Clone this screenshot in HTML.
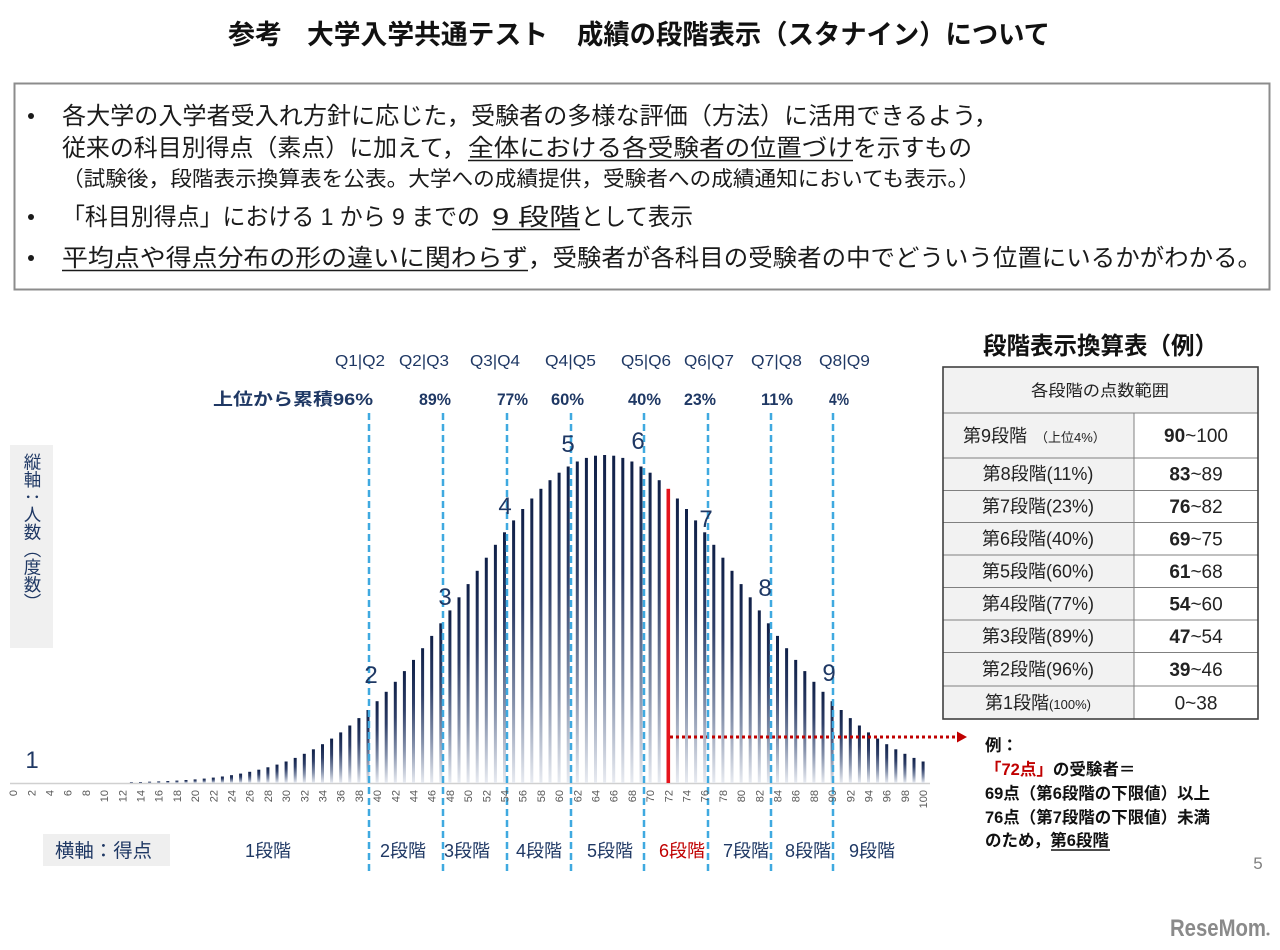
<!DOCTYPE html>
<html><head><meta charset="utf-8">
<style>
html,body{margin:0;padding:0;background:#fff;}
#p{position:relative;width:1280px;height:950px;overflow:hidden;background:#fff;font-family:"Liberation Sans","Noto Sans CJK JP",sans-serif;}
svg{position:absolute;left:0;top:0;}
svg text{font-family:"Liberation Sans","Noto Sans CJK JP",sans-serif;}
#vlab{position:absolute;left:10px;top:445px;width:43px;height:203px;background:#f0f0f0;}
#vlab div{position:absolute;left:12px;top:8px;writing-mode:vertical-rl;font-size:17.5px;line-height:20px;color:#1f3864;white-space:nowrap;}
</style></head><body><div id="p">
<div id="vlab"><div>縦軸：人数（度数）</div></div>
<svg width="1280" height="950" viewBox="0 0 1280 950">
<defs>
<linearGradient id="g" x1="0" y1="0" x2="0" y2="1">
<stop offset="0" stop-color="#0f1f47"/>
<stop offset="0.35" stop-color="#2f3f68"/>
<stop offset="0.7" stop-color="#8591ab"/>
<stop offset="1" stop-color="#e8ebf1"/>
</linearGradient>
</defs>

<!-- Title -->
<g font-weight="bold" font-size="27" fill="#111">
<text x="228" y="44" textLength="54" lengthAdjust="spacingAndGlyphs">参考</text>
<text x="307" y="44" textLength="241" lengthAdjust="spacingAndGlyphs">大学入学共通テスト</text>
<text x="577" y="44" textLength="473" lengthAdjust="spacingAndGlyphs">成績の段階表示（スタナイン）について</text>
</g>

<!-- Box -->
<rect x="14.5" y="83.5" width="1255" height="206" fill="none" stroke="#8c8c8c" stroke-width="2"/>
<g fill="#1a1a1a" font-size="24">
<circle cx="31" cy="116" r="3"/>
<circle cx="31" cy="217" r="3"/>
<circle cx="31" cy="258" r="3"/>
<text x="62" y="124" textLength="936" lengthAdjust="spacingAndGlyphs">各大学の入学者受入れ方針に応じた，受験者の多様な評価（方法）に活用できるよう，</text>
<text x="62" y="156" textLength="404" lengthAdjust="spacingAndGlyphs">従来の科目別得点（素点）に加えて，</text>
<text x="468" y="156" textLength="385" lengthAdjust="spacingAndGlyphs">全体における各受験者の位置づけ</text>
<text x="853" y="156" textLength="119" lengthAdjust="spacingAndGlyphs">を示すもの</text>
<text x="62" y="186" font-size="21" textLength="918" lengthAdjust="spacingAndGlyphs">（試験後，段階表示換算表を公表。大学への成績提供，受験者への成績通知においても表示。）</text>
<text x="62" y="225" textLength="418" lengthAdjust="spacingAndGlyphs">「科目別得点」における 1 から 9 までの</text>
<text x="492" y="225" textLength="88" lengthAdjust="spacingAndGlyphs">9 段階</text>
<text x="581" y="225" textLength="112" lengthAdjust="spacingAndGlyphs">として表示</text>
<text x="62" y="266" textLength="466" lengthAdjust="spacingAndGlyphs">平均点や得点分布の形の違いに関わらず</text>
<text x="528" y="266" textLength="734" lengthAdjust="spacingAndGlyphs">，受験者が各科目の受験者の中でどういう位置にいるかがわかる。</text>
</g>
<g stroke="#1a1a1a" stroke-width="1.5">
<line x1="468" y1="160.5" x2="853" y2="160.5"/>
<line x1="492" y1="229.5" x2="580" y2="229.5"/>
<line x1="62" y1="270.5" x2="528" y2="270.5"/>
</g>

<!-- baseline -->
<line x1="10" y1="783.5" x2="930" y2="783.5" stroke="#d0d0d0" stroke-width="1.5"/>

<!-- bars -->
<g fill="url(#g)">
<rect x="129.9" y="782.2" width="3" height="0.8"/>
<rect x="139.0" y="782.0" width="3" height="1.0"/>
<rect x="148.1" y="781.7" width="3" height="1.3"/>
<rect x="157.2" y="781.4" width="3" height="1.6"/>
<rect x="166.3" y="781.0" width="3" height="2.0"/>
<rect x="175.4" y="780.6" width="3" height="2.4"/>
<rect x="184.5" y="780.0" width="3" height="3.0"/>
<rect x="193.6" y="779.4" width="3" height="3.6"/>
<rect x="202.7" y="778.6" width="3" height="4.4"/>
<rect x="211.8" y="777.6" width="3" height="5.4"/>
<rect x="220.9" y="776.5" width="3" height="6.5"/>
<rect x="230.0" y="775.2" width="3" height="7.8"/>
<rect x="239.1" y="773.6" width="3" height="9.4"/>
<rect x="248.2" y="771.8" width="3" height="11.2"/>
<rect x="257.3" y="769.7" width="3" height="13.3"/>
<rect x="266.4" y="767.3" width="3" height="15.7"/>
<rect x="275.5" y="764.6" width="3" height="18.4"/>
<rect x="284.6" y="761.5" width="3" height="21.5"/>
<rect x="293.7" y="757.9" width="3" height="25.1"/>
<rect x="302.8" y="753.8" width="3" height="29.2"/>
<rect x="311.9" y="749.3" width="3" height="33.7"/>
<rect x="321.0" y="744.2" width="3" height="38.8"/>
<rect x="330.1" y="738.6" width="3" height="44.4"/>
<rect x="339.2" y="732.4" width="3" height="50.6"/>
<rect x="348.3" y="725.5" width="3" height="57.5"/>
<rect x="357.4" y="718.1" width="3" height="64.9"/>
<rect x="366.5" y="710.0" width="3" height="73.0"/>
<rect x="375.6" y="701.2" width="3" height="81.8"/>
<rect x="384.7" y="691.8" width="3" height="91.2"/>
<rect x="393.8" y="681.8" width="3" height="101.2"/>
<rect x="402.9" y="671.1" width="3" height="111.9"/>
<rect x="412.0" y="659.9" width="3" height="123.1"/>
<rect x="421.1" y="648.2" width="3" height="134.8"/>
<rect x="430.2" y="635.9" width="3" height="147.1"/>
<rect x="439.3" y="623.3" width="3" height="159.7"/>
<rect x="448.4" y="610.4" width="3" height="172.6"/>
<rect x="457.5" y="597.3" width="3" height="185.7"/>
<rect x="466.6" y="584.1" width="3" height="198.9"/>
<rect x="475.7" y="570.8" width="3" height="212.2"/>
<rect x="484.8" y="557.7" width="3" height="225.3"/>
<rect x="493.9" y="544.8" width="3" height="238.2"/>
<rect x="503.0" y="532.3" width="3" height="250.7"/>
<rect x="512.1" y="520.4" width="3" height="262.6"/>
<rect x="521.2" y="509.0" width="3" height="274.0"/>
<rect x="530.3" y="498.5" width="3" height="284.5"/>
<rect x="539.4" y="488.8" width="3" height="294.2"/>
<rect x="548.5" y="480.2" width="3" height="302.8"/>
<rect x="557.6" y="472.7" width="3" height="310.3"/>
<rect x="566.7" y="466.5" width="3" height="316.5"/>
<rect x="575.8" y="461.5" width="3" height="321.5"/>
<rect x="584.9" y="457.9" width="3" height="325.1"/>
<rect x="594.0" y="455.7" width="3" height="327.3"/>
<rect x="603.1" y="455.0" width="3" height="328.0"/>
<rect x="612.2" y="455.7" width="3" height="327.3"/>
<rect x="621.3" y="457.9" width="3" height="325.1"/>
<rect x="630.4" y="461.5" width="3" height="321.5"/>
<rect x="639.5" y="466.5" width="3" height="316.5"/>
<rect x="648.6" y="472.7" width="3" height="310.3"/>
<rect x="657.7" y="480.2" width="3" height="302.8"/>
<rect x="675.9" y="498.5" width="3" height="284.5"/>
<rect x="685.0" y="509.0" width="3" height="274.0"/>
<rect x="694.1" y="520.4" width="3" height="262.6"/>
<rect x="703.2" y="532.3" width="3" height="250.7"/>
<rect x="712.3" y="544.8" width="3" height="238.2"/>
<rect x="721.4" y="557.7" width="3" height="225.3"/>
<rect x="730.5" y="570.8" width="3" height="212.2"/>
<rect x="739.6" y="584.1" width="3" height="198.9"/>
<rect x="748.7" y="597.3" width="3" height="185.7"/>
<rect x="757.8" y="610.4" width="3" height="172.6"/>
<rect x="766.9" y="623.3" width="3" height="159.7"/>
<rect x="776.0" y="635.9" width="3" height="147.1"/>
<rect x="785.1" y="648.2" width="3" height="134.8"/>
<rect x="794.2" y="659.9" width="3" height="123.1"/>
<rect x="803.3" y="671.1" width="3" height="111.9"/>
<rect x="812.4" y="681.8" width="3" height="101.2"/>
<rect x="821.5" y="691.8" width="3" height="91.2"/>
<rect x="830.6" y="701.2" width="3" height="81.8"/>
<rect x="839.7" y="710.0" width="3" height="73.0"/>
<rect x="848.8" y="718.1" width="3" height="64.9"/>
<rect x="857.9" y="725.5" width="3" height="57.5"/>
<rect x="867.0" y="732.4" width="3" height="50.6"/>
<rect x="876.1" y="738.6" width="3" height="44.4"/>
<rect x="885.2" y="744.2" width="3" height="38.8"/>
<rect x="894.3" y="749.3" width="3" height="33.7"/>
<rect x="903.4" y="753.8" width="3" height="29.2"/>
<rect x="912.5" y="757.9" width="3" height="25.1"/>
<rect x="921.6" y="761.5" width="3" height="21.5"/>
</g>
<!-- red bar -->
<rect x="666.5" y="488.8" width="3.6" height="294.2" fill="#e5141c"/>

<!-- red dotted arrow -->
<line x1="670" y1="737" x2="957" y2="737" stroke="#c00000" stroke-width="3" stroke-dasharray="3 3"/>
<polygon points="957,731.5 967,737 957,742.5" fill="#c00000"/>

<!-- dashed blue lines -->
<g stroke="#3fa9e0" stroke-width="2.5" stroke-dasharray="7 4">
<line x1="369" y1="413" x2="369" y2="872"/>
<line x1="443" y1="413" x2="443" y2="872"/>
<line x1="507" y1="413" x2="507" y2="872"/>
<line x1="571" y1="413" x2="571" y2="872"/>
<line x1="644" y1="413" x2="644" y2="872"/>
<line x1="708" y1="413" x2="708" y2="872"/>
<line x1="771" y1="413" x2="771" y2="872"/>
<line x1="833" y1="413" x2="833" y2="872"/>
</g>

<!-- tick labels -->
<g font-size="11" fill="#595959" text-anchor="end">
<text transform="translate(17.1,790) rotate(-90)">0</text>
<text transform="translate(35.3,790) rotate(-90)">2</text>
<text transform="translate(53.5,790) rotate(-90)">4</text>
<text transform="translate(71.7,790) rotate(-90)">6</text>
<text transform="translate(89.9,790) rotate(-90)">8</text>
<text transform="translate(108.1,790) rotate(-90)">10</text>
<text transform="translate(126.3,790) rotate(-90)">12</text>
<text transform="translate(144.5,790) rotate(-90)">14</text>
<text transform="translate(162.7,790) rotate(-90)">16</text>
<text transform="translate(180.9,790) rotate(-90)">18</text>
<text transform="translate(199.1,790) rotate(-90)">20</text>
<text transform="translate(217.3,790) rotate(-90)">22</text>
<text transform="translate(235.5,790) rotate(-90)">24</text>
<text transform="translate(253.7,790) rotate(-90)">26</text>
<text transform="translate(271.9,790) rotate(-90)">28</text>
<text transform="translate(290.1,790) rotate(-90)">30</text>
<text transform="translate(308.3,790) rotate(-90)">32</text>
<text transform="translate(326.5,790) rotate(-90)">34</text>
<text transform="translate(344.7,790) rotate(-90)">36</text>
<text transform="translate(362.9,790) rotate(-90)">38</text>
<text transform="translate(381.1,790) rotate(-90)">40</text>
<text transform="translate(399.3,790) rotate(-90)">42</text>
<text transform="translate(417.5,790) rotate(-90)">44</text>
<text transform="translate(435.7,790) rotate(-90)">46</text>
<text transform="translate(453.9,790) rotate(-90)">48</text>
<text transform="translate(472.1,790) rotate(-90)">50</text>
<text transform="translate(490.3,790) rotate(-90)">52</text>
<text transform="translate(508.5,790) rotate(-90)">54</text>
<text transform="translate(526.7,790) rotate(-90)">56</text>
<text transform="translate(544.9,790) rotate(-90)">58</text>
<text transform="translate(563.1,790) rotate(-90)">60</text>
<text transform="translate(581.3,790) rotate(-90)">62</text>
<text transform="translate(599.5,790) rotate(-90)">64</text>
<text transform="translate(617.7,790) rotate(-90)">66</text>
<text transform="translate(635.9,790) rotate(-90)">68</text>
<text transform="translate(654.1,790) rotate(-90)">70</text>
<text transform="translate(672.3,790) rotate(-90)">72</text>
<text transform="translate(690.5,790) rotate(-90)">74</text>
<text transform="translate(708.7,790) rotate(-90)">76</text>
<text transform="translate(726.9,790) rotate(-90)">78</text>
<text transform="translate(745.1,790) rotate(-90)">80</text>
<text transform="translate(763.3,790) rotate(-90)">82</text>
<text transform="translate(781.5,790) rotate(-90)">84</text>
<text transform="translate(799.7,790) rotate(-90)">86</text>
<text transform="translate(817.9,790) rotate(-90)">88</text>
<text transform="translate(836.1,790) rotate(-90)">90</text>
<text transform="translate(854.3,790) rotate(-90)">92</text>
<text transform="translate(872.5,790) rotate(-90)">94</text>
<text transform="translate(890.7,790) rotate(-90)">96</text>
<text transform="translate(908.9,790) rotate(-90)">98</text>
<text transform="translate(927.1,790) rotate(-90)">100</text>
</g>

<!-- stage numbers -->
<g font-size="24" fill="#1f3864" text-anchor="middle">
<text x="32" y="768">1</text>
<text x="371" y="683">2</text>
<text x="445" y="605">3</text>
<text x="505" y="514">4</text>
<text x="568" y="452">5</text>
<text x="638" y="449">6</text>
<text x="706" y="527">7</text>
<text x="765" y="596">8</text>
<text x="829" y="681">9</text>
</g>

<!-- Q labels -->
<g font-size="16" fill="#1f3864">
<text x="335" y="366" textLength="50" lengthAdjust="spacingAndGlyphs">Q1|Q2</text>
<text x="399" y="366" textLength="50" lengthAdjust="spacingAndGlyphs">Q2|Q3</text>
<text x="470" y="366" textLength="50" lengthAdjust="spacingAndGlyphs">Q3|Q4</text>
<text x="545" y="366" textLength="51" lengthAdjust="spacingAndGlyphs">Q4|Q5</text>
<text x="621" y="366" textLength="50" lengthAdjust="spacingAndGlyphs">Q5|Q6</text>
<text x="684" y="366" textLength="50" lengthAdjust="spacingAndGlyphs">Q6|Q7</text>
<text x="751" y="366" textLength="51" lengthAdjust="spacingAndGlyphs">Q7|Q8</text>
<text x="819" y="366" textLength="51" lengthAdjust="spacingAndGlyphs">Q8|Q9</text>
</g>

<!-- percent labels -->
<g font-size="17" font-weight="600" fill="#1f3864">
<text x="213" y="405" textLength="160" lengthAdjust="spacingAndGlyphs">上位から累積96%</text>
<text x="419" y="405" textLength="32" lengthAdjust="spacingAndGlyphs">89%</text>
<text x="497" y="405" textLength="31" lengthAdjust="spacingAndGlyphs">77%</text>
<text x="551" y="405" textLength="33" lengthAdjust="spacingAndGlyphs">60%</text>
<text x="628" y="405" textLength="33" lengthAdjust="spacingAndGlyphs">40%</text>
<text x="684" y="405" textLength="32" lengthAdjust="spacingAndGlyphs">23%</text>
<text x="761" y="405" textLength="32" lengthAdjust="spacingAndGlyphs">11%</text>
<text x="829" y="405" textLength="20" lengthAdjust="spacingAndGlyphs">4%</text>
</g>

<!-- horizontal axis label -->
<rect x="43" y="834" width="127" height="32" fill="#efefef"/>
<text x="55" y="857" font-size="19" fill="#1f3864" textLength="97" lengthAdjust="spacingAndGlyphs">横軸：得点</text>

<!-- stage labels -->
<g font-size="18" fill="#1f3864" text-anchor="middle">
<text x="268" y="857">1段階</text>
<text x="403" y="857">2段階</text>
<text x="467" y="857">3段階</text>
<text x="539" y="857">4段階</text>
<text x="610" y="857">5段階</text>
<text x="682" y="857" fill="#c00000">6段階</text>
<text x="746" y="857">7段階</text>
<text x="808" y="857">8段階</text>
<text x="872" y="857">9段階</text>
</g>

<!-- Table -->
<text x="983" y="354" font-size="24" font-weight="bold" fill="#111" textLength="235" lengthAdjust="spacingAndGlyphs">段階表示換算表（例）</text>
<rect x="943" y="367" width="315" height="46" fill="#f2f2f2"/>
<rect x="943" y="413" width="191" height="306" fill="#f2f2f2"/>
<g stroke="#808080" stroke-width="1">
<line x1="943" y1="413" x2="1258" y2="413"/>
<line x1="943" y1="458" x2="1258" y2="458"/>
<line x1="943" y1="490.5" x2="1258" y2="490.5"/>
<line x1="943" y1="522.5" x2="1258" y2="522.5"/>
<line x1="943" y1="555" x2="1258" y2="555"/>
<line x1="943" y1="587.5" x2="1258" y2="587.5"/>
<line x1="943" y1="620" x2="1258" y2="620"/>
<line x1="943" y1="652.5" x2="1258" y2="652.5"/>
<line x1="943" y1="686" x2="1258" y2="686"/>
<line x1="1134" y1="413" x2="1134" y2="719"/>
</g>
<rect x="943" y="367" width="315" height="352" fill="none" stroke="#404040" stroke-width="1.6"/>
<text x="1100" y="396" font-size="16" fill="#222" text-anchor="middle" textLength="138" lengthAdjust="spacingAndGlyphs">各段階の点数範囲</text>
<g font-size="18" fill="#222">
<text x="963" y="442">第9段階<tspan font-size="13" dx="8">（上位4%）</tspan></text>
<text x="1038" y="480" text-anchor="middle">第8段階(11%)</text>
<text x="1038" y="512.5" text-anchor="middle">第7段階(23%)</text>
<text x="1038" y="545" text-anchor="middle">第6段階(40%)</text>
<text x="1038" y="577.5" text-anchor="middle">第5段階(60%)</text>
<text x="1038" y="610" text-anchor="middle">第4段階(77%)</text>
<text x="1038" y="642.5" text-anchor="middle">第3段階(89%)</text>
<text x="1038" y="675.5" text-anchor="middle">第2段階(96%)</text>
<text x="1038" y="709" text-anchor="middle">第1段階<tspan font-size="13">(100%)</tspan></text>
</g>
<g font-size="19" fill="#222" text-anchor="middle">
<text x="1196" y="442"><tspan font-weight="bold">90</tspan>~100</text>
<text x="1196" y="480.5"><tspan font-weight="bold">83</tspan>~89</text>
<text x="1196" y="513"><tspan font-weight="bold">76</tspan>~82</text>
<text x="1196" y="545.5"><tspan font-weight="bold">69</tspan>~75</text>
<text x="1196" y="578"><tspan font-weight="bold">61</tspan>~68</text>
<text x="1196" y="610.5"><tspan font-weight="bold">54</tspan>~60</text>
<text x="1196" y="643"><tspan font-weight="bold">47</tspan>~54</text>
<text x="1196" y="676"><tspan font-weight="bold">39</tspan>~46</text>
<text x="1196" y="709.5">0~38</text>
</g>

<!-- Example text -->
<g font-size="16.5" font-weight="bold" fill="#111">
<text x="985" y="751">例：</text>
<text x="985" y="775"><tspan fill="#c00000">「72点」</tspan>の受験者＝</text>
<text x="985" y="799" textLength="225" lengthAdjust="spacingAndGlyphs">69点（第6段階の下限値）以上</text>
<text x="985" y="823" textLength="225" lengthAdjust="spacingAndGlyphs">76点（第7段階の下限値）未満</text>
<text x="985" y="846">のため，<tspan>第6段階</tspan></text>
</g>
<line x1="1051" y1="850" x2="1110" y2="850" stroke="#111" stroke-width="1.5"/>

<!-- page number & logo -->
<text x="1258" y="869" font-size="17" fill="#808080" text-anchor="middle">5</text>
<text x="1170" y="936" font-size="24" font-weight="bold" fill="#8a8a8a" textLength="96" lengthAdjust="spacingAndGlyphs">ReseMom</text>
<circle cx="1268" cy="934" r="1.5" fill="#8a8a8a"/>
</svg>
</div></body></html>
